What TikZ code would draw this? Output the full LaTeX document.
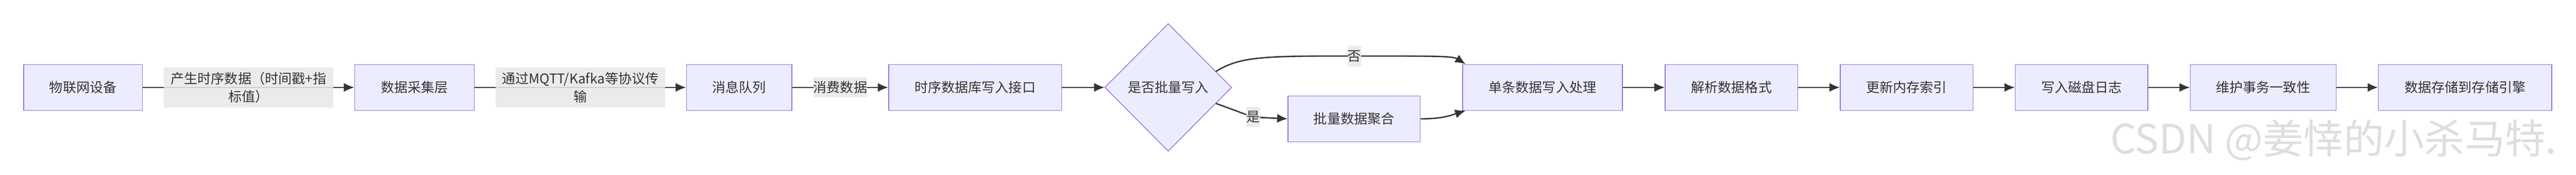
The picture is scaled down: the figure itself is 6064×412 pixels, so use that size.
\documentclass[tikz,border=0pt]{standalone}
\usepackage{fontspec}
\setmainfont{Noto Sans CJK SC}
\usetikzlibrary{arrows.meta,calc}
\definecolor{boxfill}{HTML}{ECECFF}
\definecolor{boxline}{HTML}{9370DB}
\definecolor{lblfill}{HTML}{E8E8E8}
\definecolor{edge}{HTML}{333333}
\begin{document}
\begin{tikzpicture}[x=0.01cm,y=-0.01cm,
  box/.style={draw=boxline,fill=boxfill,line width=0.5pt,minimum height=1.08cm,inner sep=0pt,font=\fontsize{9}{12}\selectfont,text=edge},
  lbl/.style={fill=lblfill,fill opacity=0.85,text opacity=1,inner sep=0pt,font=\fontsize{9}{12}\selectfont,text=edge,align=center},
  arr/.style={draw=edge,line width=0.9pt,-{Latex[length=7pt,width=6pt]}}]
\useasboundingbox (0,0) rectangle (6064,412);
\node[box,minimum width=2.79cm] (a) at (195.5,206) {物联网设备};
\node[box,minimum width=2.81cm] (b) at (975.5,206) {数据采集层};
\node[box,minimum width=2.48cm] (c) at (1740,206) {消息队列};
\node[box,minimum width=4.07cm] (d) at (2295.5,206) {时序数据库写入接口};
\fill[boxfill,draw=boxline,line width=0.5pt] (2750,56) -- (2899,206) -- (2750,356) -- (2601,206) -- cycle;
\node[inner sep=0pt,minimum width=2.98cm,minimum height=3cm,font=\fontsize{9}{12}\selectfont,text=edge] (e) at (2750,206) {是否批量写入};
\node[box,minimum width=3.11cm] (f) at (3187.5,280) {批量数据聚合};
\node[box,minimum width=3.76cm] (g) at (3631,206) {单条数据写入处理};
\node[box,minimum width=3.12cm] (h) at (4076,206) {解析数据格式};
\node[box,minimum width=3.12cm] (i) at (4488,206) {更新内存索引};
\node[box,minimum width=3.12cm] (j) at (4900,206) {写入磁盘日志};
\node[box,minimum width=3.43cm] (k) at (5327.5,206) {维护事务一致性};
\node[box,minimum width=4.08cm] (m) at (5803,206) {数据存储到存储引擎};
\draw[arr] (a) -- node[lbl,minimum width=3.98cm,minimum height=0.95cm]{产生时序数据（时间戳+指\\标值）} (b);
\draw[arr] (b) -- node[lbl,minimum width=3.99cm,minimum height=0.95cm]{通过MQTT/Kafka等协议传\\输} (c);
\draw[arr] (c) -- node[lbl,minimum width=1.27cm,minimum height=0.47cm]{消费数据} (d);
\draw[arr] (d) -- (e.west);
\coordinate (eu) at ($(e.east)!0.25!(e.north)$);
\coordinate (el) at ($(e.east)!0.25!(e.south)$);
\coordinate (gtl) at ($(g.north west)+(8,0)$);
\coordinate (gbl) at ($(g.south west)+(8,0)$);
\draw[arr] (eu) .. controls (2920,132) and (2980,132) .. (3188,132) node[lbl,minimum width=0.31cm,minimum height=0.48cm]{否} .. controls (3380,132) and (3420,132) .. (gtl);
\draw[arr] (el) -- (2950,276) -- node[pos=0,lbl,minimum width=0.32cm,minimum height=0.47cm]{是} (f.west);
\draw[arr] (f.east) .. controls (3400,280) and (3420,270) .. (gbl);
\draw[arr] (g) -- (h);
\draw[arr] (h) -- (i);
\draw[arr] (i) -- (j);
\draw[arr] (j) -- (k);
\draw[arr] (k) -- (m);
\node[anchor=west,inner sep=0pt,text=black!13,font=\fontsize{27}{30}\selectfont] (wm) at (4967,330) {CSDN @姜悻的小杀马特.};
\end{tikzpicture}
\end{document}
